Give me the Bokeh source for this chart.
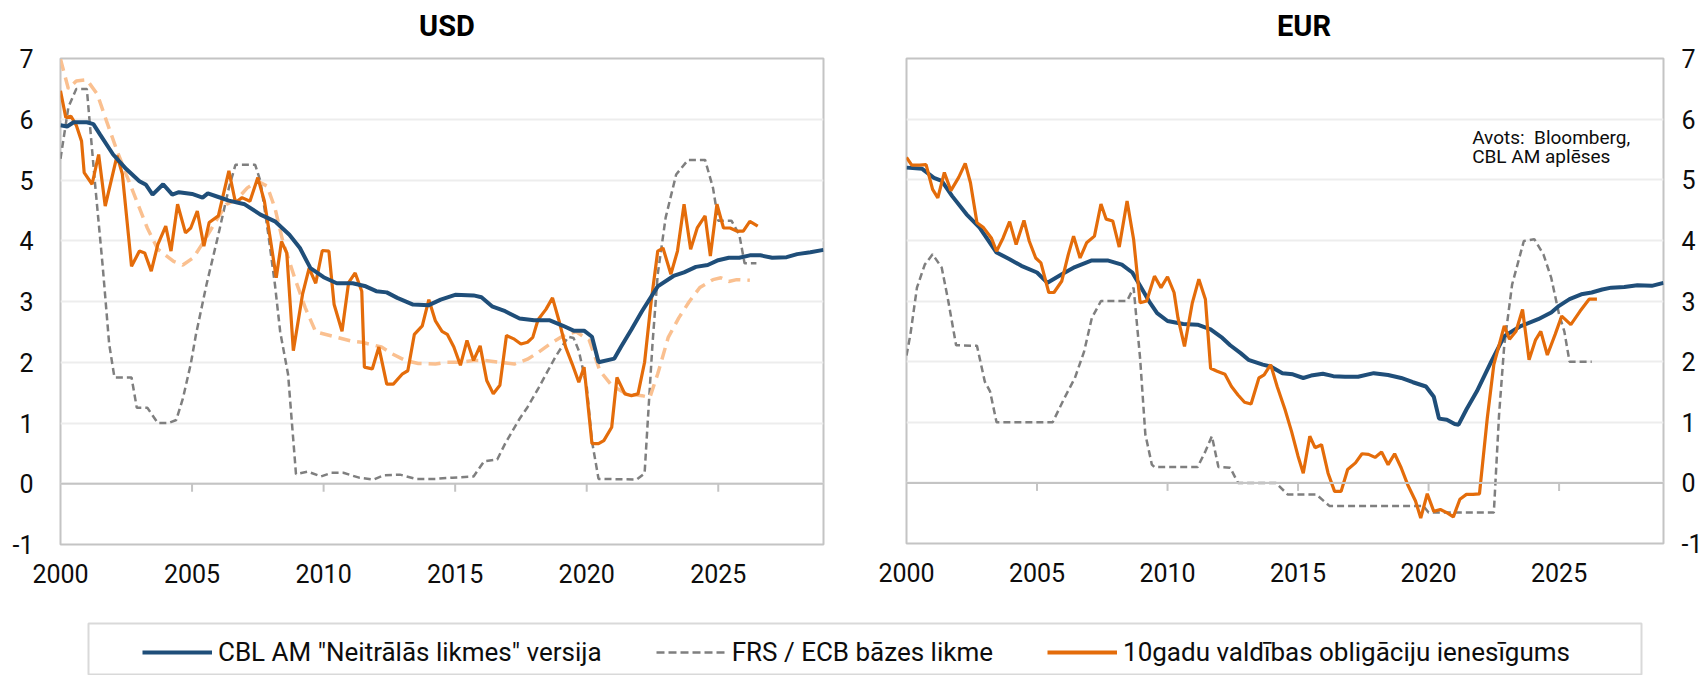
from bokeh.plotting import figure
from bokeh.models import (Range1d, FixedTicker, Span, Label, Legend, LegendItem,
                          CustomJSTickFormatter)
from bokeh.layouts import column, row
from bokeh.embed import file_html
from bokeh.resources import INLINE

# ---------------- data ----------------
x_ticks = [2000, 2005, 2010, 2015, 2020, 2025]
y_ticks = [-1, 0, 1, 2, 3, 4, 5, 6, 7]

usd_neutral_x = [2000.0, 2000.25, 2000.5, 2001.0, 2001.25, 2001.5, 2002.0, 2002.5, 2003.0, 2003.25,
                 2003.5, 2003.9, 2004.25, 2004.5, 2005.0, 2005.4, 2005.6, 2006.0, 2006.4, 2007.0,
                 2007.6, 2008.15, 2008.7, 2009.1, 2009.5, 2010.0, 2010.5, 2011.1, 2011.6, 2012.0,
                 2012.4, 2012.8, 2013.4, 2014.0, 2014.45, 2015.0, 2015.7, 2016.0, 2016.4, 2016.9,
                 2017.45, 2018.0, 2018.6, 2019.1, 2019.5, 2019.9, 2020.2, 2020.45, 2021.05, 2021.3,
                 2021.7, 2022.1, 2022.7, 2023.3, 2023.7, 2024.15, 2024.6, 2025.0, 2025.4, 2025.8,
                 2026.2, 2026.6, 2027.05, 2027.6, 2028.0, 2028.5, 2029.0]
usd_neutral_y = [5.90, 5.88, 5.95, 5.95, 5.92, 5.75, 5.42, 5.18, 4.98, 4.92,
                 4.76, 4.93, 4.76, 4.80, 4.77, 4.71, 4.78, 4.72, 4.66, 4.60,
                 4.43, 4.32, 4.10, 3.88, 3.55, 3.40, 3.30, 3.30, 3.25, 3.17,
                 3.15, 3.06, 2.95, 2.94, 3.03, 3.11, 3.10, 3.07, 2.92, 2.84,
                 2.72, 2.69, 2.69, 2.60, 2.52, 2.52, 2.42, 2.00, 2.06, 2.25,
                 2.54, 2.84, 3.25, 3.42, 3.48, 3.57, 3.60, 3.68, 3.72, 3.72,
                 3.76, 3.76, 3.72, 3.73, 3.78, 3.81, 3.85]

usd_policy_x = [2000.0, 2000.3, 2000.6, 2001.0, 2001.3, 2001.6, 2001.85, 2002.05, 2002.7, 2002.9,
                2003.3, 2003.7, 2004.1, 2004.4, 2004.65, 2004.95, 2005.15, 2005.55, 2006.0, 2006.4,
                2006.65, 2007.4, 2007.6, 2007.9, 2008.15, 2008.35, 2008.65, 2008.95, 2009.4, 2009.9,
                2010.3, 2010.75, 2011.35, 2011.9, 2012.3, 2012.9, 2013.5, 2014.25, 2014.9, 2015.7,
                2016.1, 2016.6, 2016.9, 2017.45, 2017.75, 2018.15, 2018.5, 2018.8, 2019.3, 2019.5,
                2019.7, 2020.0, 2020.2, 2020.45, 2021.9, 2022.2, 2022.3, 2022.5, 2022.7, 2023.0,
                2023.4, 2023.85, 2024.5, 2024.8, 2025.0, 2025.5, 2025.8, 2026.0, 2026.45]
usd_policy_y = [5.35, 6.20, 6.50, 6.50, 5.00, 3.60, 2.30, 1.75, 1.75, 1.25,
                1.25, 1.00, 1.00, 1.05, 1.40, 1.97, 2.46, 3.28, 4.10, 4.87,
                5.25, 5.25, 4.98, 4.10, 3.28, 2.50, 1.80, 0.16, 0.20, 0.12,
                0.18, 0.18, 0.10, 0.07, 0.14, 0.15, 0.08, 0.08, 0.10, 0.12,
                0.37, 0.40, 0.66, 1.07, 1.26, 1.56, 1.84, 2.08, 2.42, 2.40,
                2.19, 1.60, 0.70, 0.08, 0.07, 0.17, 0.88, 2.30, 3.45, 4.38,
                5.09, 5.33, 5.33, 4.87, 4.33, 4.33, 4.10, 3.63, 3.63]

usd_smooth_x = [2000.0, 2000.3, 2000.6, 2001.0, 2001.4, 2001.75, 2002.15, 2002.5, 2002.9, 2003.3,
                2003.7, 2004.3, 2004.65, 2005.05, 2005.45, 2005.9, 2006.3, 2006.7, 2007.1, 2007.5,
                2007.85, 2008.15, 2008.45, 2008.9, 2009.3, 2009.7, 2010.5, 2011.05, 2011.45, 2012.2,
                2012.6, 2013.1, 2013.6, 2014.25, 2014.65, 2015.2, 2015.7, 2016.1, 2016.7, 2017.25,
                2017.75, 2018.15, 2018.6, 2019.2, 2019.6, 2020.1, 2020.5, 2020.95, 2021.5, 2022.1,
                2022.4, 2022.7, 2023.1, 2023.5, 2023.9, 2024.3, 2024.8, 2025.1, 2025.4, 2025.7,
                2026.2]
usd_smooth_y = [6.99, 6.50, 6.63, 6.65, 6.41, 5.97, 5.48, 5.09, 4.65, 4.21,
                3.86, 3.66, 3.60, 3.72, 3.99, 4.32, 4.60, 4.68, 4.87, 4.98,
                4.90, 4.54, 3.99, 3.39, 2.90, 2.50, 2.41, 2.35, 2.33, 2.25,
                2.14, 2.03, 1.98, 1.97, 2.00, 2.00, 2.03, 2.03, 2.00, 1.97,
                2.05, 2.16, 2.30, 2.46, 2.50, 2.36, 1.86, 1.62, 1.48, 1.45,
                1.42, 1.81, 2.41, 2.73, 3.00, 3.23, 3.36, 3.39, 3.33, 3.36,
                3.35]

usd_yield_x = [2000.0, 2000.2, 2000.4, 2000.6, 2000.8, 2000.9, 2001.2, 2001.45, 2001.7, 2002.15,
               2002.35, 2002.7, 2003.0, 2003.2, 2003.45, 2003.7, 2004.0, 2004.2, 2004.45, 2004.75,
               2004.95, 2005.2, 2005.45, 2005.65, 2006.0, 2006.4, 2006.65, 2006.9, 2007.2, 2007.5,
               2007.75, 2007.95, 2008.2, 2008.4, 2008.6, 2008.85, 2009.2, 2009.45, 2009.7, 2009.95,
               2010.2, 2010.4, 2010.7, 2010.95, 2011.2, 2011.45, 2011.55, 2011.85, 2012.1, 2012.4,
               2012.65, 2013.0, 2013.2, 2013.45, 2013.75, 2014.0, 2014.25, 2014.5, 2014.7, 2014.95,
               2015.2, 2015.45, 2015.7, 2015.95, 2016.2, 2016.45, 2016.7, 2016.95, 2017.25, 2017.5,
               2017.75, 2017.95, 2018.15, 2018.45, 2018.7, 2018.95, 2019.2, 2019.45, 2019.7, 2019.9,
               2020.2, 2020.45, 2020.65, 2020.95, 2021.15, 2021.45, 2021.7, 2021.95, 2022.2, 2022.45,
               2022.7, 2022.9, 2023.2, 2023.45, 2023.7, 2023.95, 2024.2, 2024.5, 2024.7, 2024.95,
               2025.2, 2025.45, 2025.7, 2025.95, 2026.2, 2026.5]
usd_yield_y = [6.47, 6.03, 6.05, 5.90, 5.64, 5.12, 4.93, 5.42, 4.57, 5.40,
               5.10, 3.58, 3.83, 3.80, 3.50, 3.94, 4.24, 3.83, 4.60, 4.13,
               4.21, 4.49, 3.91, 4.30, 4.41, 5.15, 4.63, 4.71, 4.65, 5.04,
               4.65, 4.10, 3.39, 3.99, 3.80, 2.19, 3.12, 3.55, 3.30, 3.84,
               3.83, 2.95, 2.51, 3.31, 3.47, 3.17, 1.92, 1.89, 2.25, 1.64,
               1.64, 1.81, 1.86, 2.46, 2.60, 3.03, 2.68, 2.51, 2.46, 2.25,
               1.95, 2.36, 2.03, 2.27, 1.70, 1.48, 1.62, 2.44, 2.38, 2.30,
               2.33, 2.41, 2.70, 2.87, 3.06, 2.68, 2.25, 1.97, 1.67, 1.92,
               0.66, 0.66, 0.71, 0.93, 1.75, 1.48, 1.45, 1.48, 2.00, 3.00,
               3.83, 3.88, 3.45, 3.83, 4.60, 3.86, 4.21, 4.41, 3.75, 4.60,
               4.21, 4.21, 4.16, 4.16, 4.32, 4.24]

eur_neutral_x = [2000.0, 2000.6, 2001.05, 2001.35, 2001.75, 2002.3, 2002.8, 2003.45, 2003.95, 2004.4,
                 2005.0, 2005.4, 2005.95, 2006.45, 2007.1, 2007.7, 2008.25, 2008.65, 2008.95, 2009.3,
                 2009.6, 2010.0, 2010.6, 2011.15, 2011.65, 2012.1, 2012.4, 2012.8, 2013.1, 2013.65,
                 2013.95, 2014.4, 2014.8, 2015.2, 2015.5, 2015.95, 2016.35, 2016.8, 2017.3, 2017.9,
                 2018.45, 2018.95, 2019.4, 2019.9, 2020.2, 2020.4, 2020.7, 2021.0, 2021.15, 2021.45,
                 2021.85, 2022.4, 2022.9, 2023.5, 2024.2, 2024.7, 2025.0, 2025.4, 2025.85, 2026.25,
                 2026.65, 2027.0, 2027.5, 2028.0, 2028.55, 2029.0]
eur_neutral_y = [5.20, 5.18, 5.03, 4.98, 4.73, 4.43, 4.21, 3.80, 3.69, 3.58,
                 3.47, 3.30, 3.44, 3.56, 3.67, 3.67, 3.60, 3.47, 3.25, 2.99,
                 2.80, 2.67, 2.62, 2.61, 2.53, 2.39, 2.27, 2.14, 2.03, 1.95,
                 1.92, 1.81, 1.79, 1.73, 1.77, 1.80, 1.76, 1.75, 1.75, 1.81,
                 1.78, 1.73, 1.66, 1.59, 1.42, 1.06, 1.04, 0.97, 0.96, 1.21,
                 1.51, 2.00, 2.42, 2.58, 2.70, 2.81, 2.92, 3.03, 3.11, 3.14,
                 3.19, 3.22, 3.23, 3.26, 3.25, 3.30]

eur_policy_x = [2000.0, 2000.15, 2000.4, 2000.7, 2001.0, 2001.35, 2001.6, 2001.9, 2002.7, 2003.0,
                2003.2, 2003.45, 2005.6, 2006.05, 2006.45, 2006.8, 2007.1, 2007.45, 2008.45, 2008.7,
                2008.95, 2009.15, 2009.4, 2009.5, 2011.15, 2011.45, 2011.7, 2011.95, 2012.4, 2012.7,
                2014.15, 2014.6, 2015.7, 2016.2, 2019.8, 2020.0, 2022.5, 2022.7, 2022.9, 2023.2,
                2023.65, 2024.05, 2024.4, 2024.7, 2025.0, 2025.2, 2025.4, 2026.25]
eur_policy_y = [2.10, 2.45, 3.22, 3.60, 3.77, 3.55, 3.00, 2.27, 2.26, 1.67,
                1.51, 1.00, 1.00, 1.40, 1.73, 2.16, 2.72, 3.00, 3.00, 3.22,
                2.05, 0.80, 0.30, 0.26, 0.26, 0.52, 0.77, 0.26, 0.25, 0.00,
                0.00, -0.19, -0.19, -0.38, -0.38, -0.49, -0.49, 1.12, 2.27, 3.27,
                3.99, 4.02, 3.77, 3.38, 2.78, 2.50, 2.00, 2.00]

eur_yield_x = [2000.0, 2000.2, 2000.5, 2000.75, 2001.0, 2001.2, 2001.45, 2001.7, 2002.0, 2002.25,
               2002.45, 2002.7, 2002.95, 2003.25, 2003.45, 2003.7, 2003.95, 2004.2, 2004.5, 2004.7,
               2004.95, 2005.15, 2005.45, 2005.65, 2005.95, 2006.2, 2006.4, 2006.65, 2006.9, 2007.2,
               2007.45, 2007.65, 2007.9, 2008.15, 2008.45, 2008.7, 2008.95, 2009.2, 2009.5, 2009.75,
               2010.0, 2010.25, 2010.4, 2010.65, 2010.95, 2011.2, 2011.45, 2011.65, 2011.9, 2012.2,
               2012.45, 2012.7, 2012.95, 2013.2, 2013.5, 2013.7, 2013.95, 2014.2, 2014.5, 2014.75,
               2015.0, 2015.2, 2015.45, 2015.65, 2015.9, 2016.15, 2016.4, 2016.65, 2016.9, 2017.2,
               2017.45, 2017.7, 2017.95, 2018.2, 2018.45, 2018.7, 2018.95, 2019.2, 2019.5, 2019.7,
               2019.95, 2020.2, 2020.45, 2020.7, 2020.95, 2021.2, 2021.45, 2021.7, 2021.95, 2022.25,
               2022.5, 2022.9, 2023.1, 2023.35, 2023.6, 2023.85, 2024.1, 2024.3, 2024.55, 2024.85,
               2025.1, 2025.45, 2025.8, 2026.15, 2026.45]
eur_yield_y = [5.37, 5.24, 5.24, 5.25, 4.84, 4.70, 5.12, 4.82, 5.04, 5.27,
               4.95, 4.29, 4.21, 4.04, 3.82, 4.04, 4.31, 3.93, 4.33, 3.99,
               3.71, 3.63, 3.14, 3.14, 3.33, 3.77, 4.07, 3.71, 3.96, 4.07,
               4.60, 4.35, 4.32, 3.89, 4.65, 4.02, 2.97, 3.00, 3.41, 3.22,
               3.40, 3.14, 2.72, 2.25, 2.97, 3.36, 3.03, 1.89, 1.84, 1.79,
               1.59, 1.45, 1.33, 1.30, 1.73, 1.78, 1.95, 1.59, 1.21, 0.85,
               0.44, 0.16, 0.77, 0.58, 0.63, 0.16, -0.14, -0.14, 0.22, 0.33,
               0.48, 0.47, 0.42, 0.51, 0.30, 0.48, 0.25, -0.03, -0.30, -0.58,
               -0.18, -0.47, -0.44, -0.49, -0.56, -0.27, -0.19, -0.19, -0.18, 1.07,
               1.95, 2.59, 2.37, 2.50, 2.86, 2.03, 2.36, 2.50, 2.11, 2.45,
               2.75, 2.61, 2.83, 3.03, 3.03]

legend_labels = ['CBL AM "Neitrālās likmes" versija', "FRS / ECB bāzes likme",
                 "10gadu valdības obligāciju ienesīgums"]
titles = ["USD", "EUR"]
source_note = ["Avots:\u00a0\u00a0Bloomberg,", "CBL AM aplēses"]

# ---------------- styles ----------------
BLUE = "#1F4E79"
ORANGE = "#E46C0A"
GRAY = "#7F7F7F"
LIGHT = "#FAC090"
FONT = "Roboto"
TXT = "#0D0D0D"
TITLE_H = 43


def make_title_strip(text, width, cx):
    t = figure(frame_width=width, frame_height=TITLE_H, min_border=0,
               x_range=Range1d(0, 1), y_range=Range1d(0, 1),
               output_backend="svg", toolbar_location=None)
    t.axis.visible = False
    t.grid.visible = False
    t.outline_line_color = None
    t.add_layout(Label(x=cx, y=TITLE_H - 25.5, x_units="screen", y_units="screen",
                       text=text, text_align="center", text_baseline="middle",
                       text_font=FONT, text_font_size="29px", text_font_style="bold",
                       text_color="#000000"))
    return t


def make_panel(side, fw, fh, bl, br, bb, standoff):
    p = figure(frame_width=fw, frame_height=fh,
               min_border_left=bl, min_border_right=br, min_border_top=58 - TITLE_H,
               min_border_bottom=bb,
               x_range=Range1d(2000, 2029), y_range=Range1d(-1, 7),
               y_axis_location=side, output_backend="svg", toolbar_location=None)
    p.outline_line_color = "#C4C4C4"
    p.outline_line_width = 2
    p.background_fill_color = "white"
    p.border_fill_color = "white"

    p.xgrid.visible = False
    p.ygrid.grid_line_color = "#EDEDED"
    p.ygrid.grid_line_width = 2

    p.xaxis.ticker = FixedTicker(ticks=x_ticks)
    p.yaxis.ticker = FixedTicker(ticks=y_ticks)
    p.yaxis.formatter = CustomJSTickFormatter(code="return String(tick);")
    for ax in (p.xaxis, p.yaxis):
        ax.axis_line_color = None
        ax.major_tick_line_color = None
        ax.minor_tick_line_color = None
        ax.major_tick_out = 0
        ax.major_tick_in = 0
        ax.major_label_text_font = FONT
        ax.major_label_text_font_size = "25px"
        ax.major_label_text_color = TXT
    p.xaxis.major_label_standoff = 19
    p.yaxis.major_label_standoff = standoff

    # zero line with short ticks hanging below it
    p.add_layout(Span(location=0, dimension="width", line_color="#C4C4C4", line_width=2))
    tk = [t for t in x_ticks if t > 2000]
    tick_len = 8.0 / (fh / 8.0)
    p.segment(x0=tk, y0=[0] * len(tk), x1=tk, y1=[-tick_len] * len(tk),
              line_color="#C4C4C4", line_width=2)
    return p


t1 = make_title_strip(titles[0], 860, 60 + 763 / 2 + 5)
t2 = make_title_strip(titles[1], 844, 46 + 757 / 2 + 19)

p1 = make_panel("left", 763, 486, 60, 37, 56, 27)
p1.line(usd_policy_x, usd_policy_y, line_color=GRAY, line_width=2.5, line_dash="7 4")
p1.line(usd_smooth_x, usd_smooth_y, line_color=LIGHT, line_width=3.5, line_dash="12 7")
p1.line(usd_yield_x, usd_yield_y, line_color=ORANGE, line_width=3.2)
p1.line(usd_neutral_x, usd_neutral_y, line_color=BLUE, line_width=4)

p2 = make_panel("right", 757, 485, 46, 41, 57, 18)
p2.line(eur_policy_x, eur_policy_y, line_color=GRAY, line_width=2.5, line_dash="7 4")
p2.line(eur_neutral_x, eur_neutral_y, line_color=BLUE, line_width=4)
p2.line(eur_yield_x, eur_yield_y, line_color=ORANGE, line_width=3.2)
p2.add_layout(Label(x=2021.67, y=5.69, text=source_note[0], text_font=FONT,
                    text_font_size="19px", text_color=TXT, text_baseline="alphabetic"))
p2.add_layout(Label(x=2021.67, y=5.39, text=source_note[1], text_font=FONT,
                    text_font_size="19px", text_color=TXT, text_baseline="alphabetic"))

# ---------------- legend strip ----------------
pl = figure(frame_width=1553, frame_height=52, min_border_left=88, min_border_right=63,
            min_border_top=23, min_border_bottom=0,
            x_range=Range1d(0, 1), y_range=Range1d(0, 1),
            output_backend="svg", toolbar_location=None)
pl.axis.visible = False
pl.grid.visible = False
pl.outline_line_color = "#D9D9D9"
pl.outline_line_width = 2
# sample renderers (kept outside the visible range) that only feed the legend glyphs
r1 = pl.line(x=[-5, -4], y=[-5, -4], line_color=BLUE, line_width=4)
r2 = pl.line(x=[-5, -4], y=[-5, -4], line_color=GRAY, line_width=2.5, line_dash="8 4")
r3 = pl.line(x=[-5, -4], y=[-5, -4], line_color=ORANGE, line_width=4)
leg = Legend(items=[LegendItem(label=legend_labels[0], renderers=[r1]),
                    LegendItem(label=legend_labels[1], renderers=[r2]),
                    LegendItem(label=legend_labels[2], renderers=[r3])],
             orientation="horizontal", location=(54, 8),
             glyph_width=70, glyph_height=30, label_height=30, label_standoff=6,
             spacing=54, padding=0, margin=0,
             border_line_alpha=0, background_fill_alpha=0,
             label_text_font=FONT, label_text_font_size="26px", label_text_color=TXT)
pl.add_layout(leg)

layout = column(row(t1, t2), row(p1, p2), pl)
open("out.html", "w").write(file_html(layout, INLINE))
